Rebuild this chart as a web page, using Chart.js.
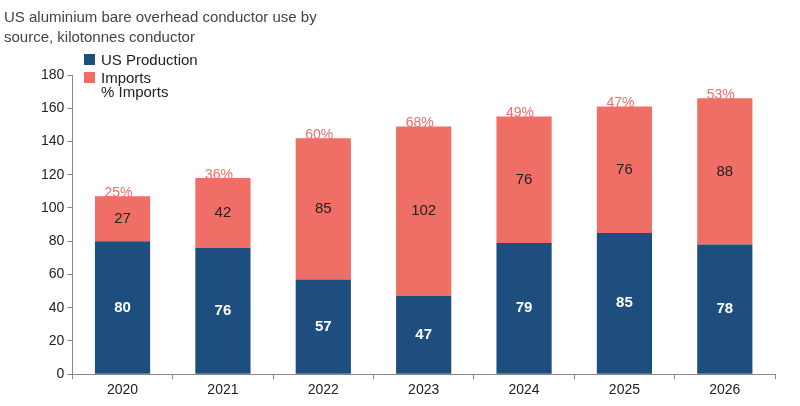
<!DOCTYPE html>
<html><head><meta charset="utf-8">
<script src="https://cdn.jsdelivr.net/npm/chart.js@4"></script>
<style>html,body{margin:0;padding:0;background:#fff}#w{width:800px;height:406px}</style>
</head><body><div id="w"><canvas id="c"></canvas></div>
<script>
const years = ['2020','2021','2022','2023','2024','2025','2026'];
const usProduction = [80,76,57,47,79,85,78];
const imports = [27,42,85,102,76,76,88];
const pctImports = ['25%','36%','60%','68%','49%','47%','53%'];
const NAVY='#1D4E7E', SALMON='#EF6F67';
const F='"Liberation Sans", Arial, sans-serif';

const labelPlugin={id:'lbl',afterDatasetsDraw(ch){
  const ctx=ch.ctx;ctx.save();
  const m0=ch.getDatasetMeta(0),m1=ch.getDatasetMeta(1);
  ctx.textAlign='center';ctx.textBaseline='middle';
  m0.data.forEach((b,i)=>{ctx.fillStyle='#fff';ctx.font='bold 15px '+F;ctx.fillText(usProduction[i],b.x,(b.y+b.base)/2);});
  m1.data.forEach((b,i)=>{ctx.fillStyle='#222';ctx.font='15px '+F;ctx.fillText(imports[i],b.x,(b.y+b.base)/2);
    ctx.fillStyle=SALMON;ctx.font='14px '+F;ctx.fillText(pctImports[i],b.x-4,b.y-3);});
  ctx.textAlign='left';ctx.textBaseline='alphabetic';ctx.fillStyle='#444';ctx.font='15px '+F;
  ctx.fillText('US aluminium bare overhead conductor use by',4,22);
  ctx.fillText('source, kilotonnes conductor',4,42);
  ctx.fillStyle=NAVY;ctx.fillRect(84,54,11,11);
  ctx.fillStyle=SALMON;ctx.fillRect(84,72,11,11);
  ctx.fillStyle='#222';ctx.font='15px '+F;
  ctx.fillText('US Production',101,65);
  ctx.fillText('Imports',101,83);
  ctx.fillText('% Imports',101,97);
  ctx.restore();
}};

new Chart(document.getElementById('c'),{
  type:'bar',
  data:{labels:years,datasets:[
    {label:'US Production',data:usProduction,backgroundColor:NAVY,barPercentage:0.55,categoryPercentage:1},
    {label:'Imports',data:imports,backgroundColor:SALMON,barPercentage:0.55,categoryPercentage:1}]},
  options:{responsive:true,maintainAspectRatio:false,animation:false,
    layout:{padding:{top:75,right:25,left:38,bottom:4}},
    plugins:{legend:{display:false},tooltip:{enabled:false}},
    scales:{
      x:{stacked:true,grid:{display:true,drawOnChartArea:false,offset:true,color:'#888',tickLength:5},border:{color:'#888'},
        ticks:{color:'#222',font:{size:14,family:F}}},
      y:{stacked:true,min:0,max:180,ticks:{stepSize:20,color:'#222',font:{size:14,family:F}},
        grid:{drawOnChartArea:false,color:'#888',tickLength:5},border:{color:'#888'}}}
  },
  plugins:[labelPlugin]
});
</script></body></html>
